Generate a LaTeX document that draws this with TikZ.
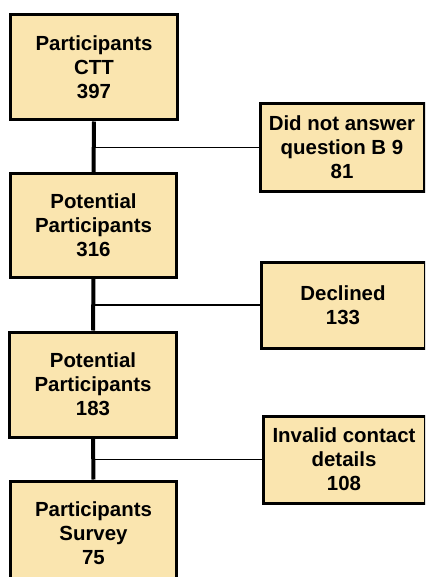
\documentclass[tikz,border=0pt]{standalone}
\usepackage{fontspec}
\setmainfont{Liberation Sans}
\usepackage{tikz}
\usepackage{xcolor}
\definecolor{boxfill}{HTML}{FAE5AF}

\begin{document}
\begin{tikzpicture}[x=1bp,y=-1bp,
  box/.style={draw=black,line width=3bp,fill=boxfill,align=center,inner sep=0pt,
    font=\fontsize{20.5}{24}\selectfont\bfseries},
  trunk/.style={line width=4bp},
  branch/.style={line width=1.6bp}]
\clip (0,0) rectangle (425,577);
\node[box,minimum width=166bp,minimum height=105bp] (ctt) at (94,67.5){Participants\\CTT\\397};
\node[box,minimum width=165bp,minimum height=103bp] (pot1) at (93.5,225.5){Potential\\Participants\\316};
\node[box,minimum width=166bp,minimum height=105bp] (pot2) at (93,384.5){Potential\\Participants\\183};
\node[box,minimum width=165bp,minimum height=105bp] (survey) at (93.5,533.5){Participants\\Survey\\75};
\node[box,minimum width=164bp,minimum height=87bp] (noans) at (342,147.5){Did not answer\\question B 9\\81};
\node[box,minimum width=164bp,minimum height=86bp] (decl) at (343,305){Declined\\133};
\node[box,minimum width=162bp,minimum height=87bp] (inval) at (344,459.5){Invalid contact\\details\\108};
\draw[trunk] (ctt.south) -- (pot1.north);
\draw[trunk] (pot1.south) -- (pot2.north);
\draw[trunk] (pot2.south) -- (survey.north);
\draw[branch] (ctt.south |- noans.west) -- (noans.west);
\draw[branch] (pot1.south |- decl.west) -- (decl.west);
\draw[branch] (pot2.south |- inval.west) -- (inval.west);
\end{tikzpicture}
\end{document}
